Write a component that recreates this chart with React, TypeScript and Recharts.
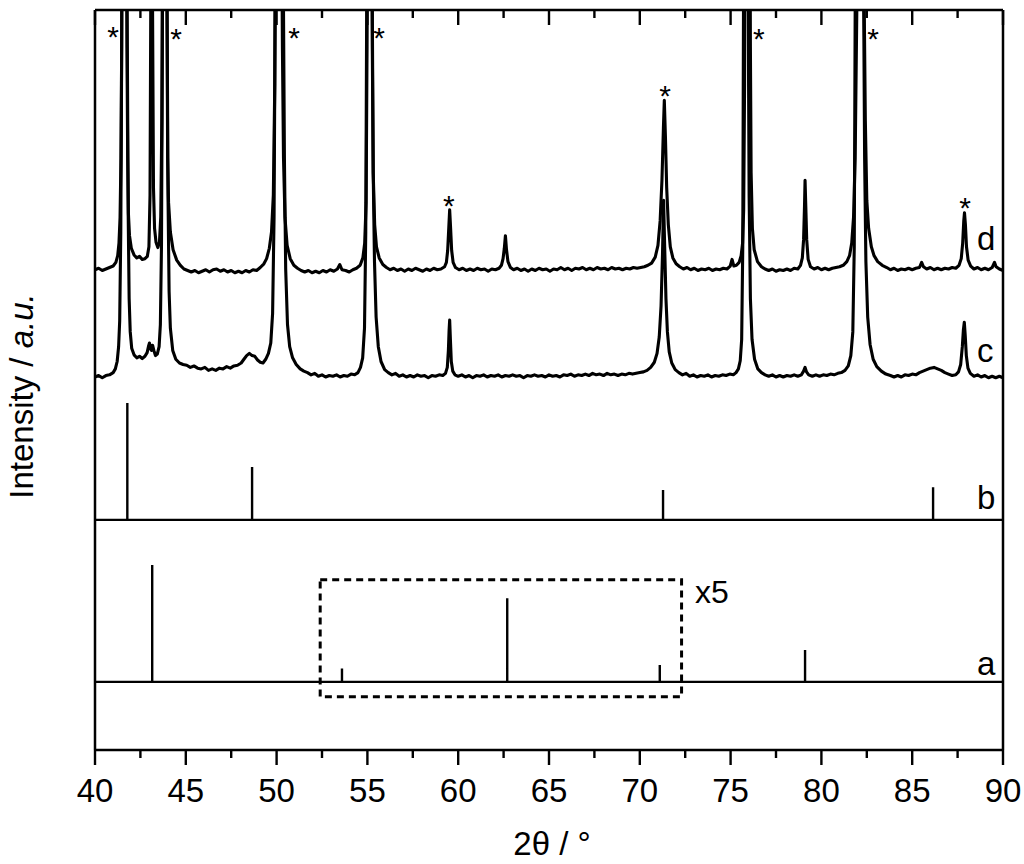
import React from 'react';
import { ComposedChart, Line, XAxis, YAxis, ReferenceLine, ReferenceArea, ReferenceDot, Label } from 'recharts';

const FONT = '"Liberation Sans", Arial, Helvetica, sans-serif';
const INK = '#000000';

// 2theta tick values (major every 5, minor every 2.5)
const xTicks = [40, 42.5, 45, 47.5, 50, 52.5, 55, 57.5, 60, 62.5, 65, 67.5, 70, 72.5, 75, 77.5, 80, 82.5, 85, 87.5, 90];

// reference pattern a (stick positions, heights) drawn on baseline aBase; central part shown x5
const aBase = 9.2;
const aPositions = [43.15, 53.6, 62.7, 71.1, 79.1];
const aHeights = [15.8, 1.8, 11.3, 2.3, 4.3];

// reference pattern b
const bBase = 31.1;
const bPositions = [41.78, 48.65, 71.28, 86.15];
const bHeights = [15.8, 7.15, 4.05, 4.4];

// measured pattern c  [2theta, intensity]
const cPattern: [number, number][] = [
  [40.0,50.4],[40.2,50.6],[40.4,50.3],[40.6,50.6],[40.8,50.7],[41.0,51.0],[41.12,51.5],[41.22,52.5],[41.3,54.5],[41.36,58],[41.42,70],[41.46,90],[41.5,120],[41.62,140],[41.73,120],[41.78,95],[41.83,72],[41.88,61],[41.94,56.5],[42.02,54.3],[42.15,53.4],[42.3,53.0],[42.45,53.2],[42.6,52.9],[42.75,53.2],[42.87,53.7],[42.95,54.6],[43.0,55.0],[43.06,54.2],[43.11,54.0],[43.17,54.7],[43.24,54.0],[43.33,53.3],[43.43,53.5],[43.53,54.5],[43.6,57.5],[43.66,68],[43.71,95],[43.76,140],[43.92,140],[43.97,100],[44.02,75],[44.08,62],[44.15,57],[44.28,54.0],[44.45,52.8],[44.65,52.3],[44.85,52.1],[45.05,52.0],[45.25,51.7],[45.45,51.9],[45.65,51.6],[45.85,51.5],[46.05,51.7],[46.25,51.3],[46.45,51.5],[46.65,51.3],[46.85,51.6],[47.05,51.5],[47.25,51.8],[47.45,51.6],[47.65,51.9],[47.85,52.0],[48.05,52.3],[48.2,52.8],[48.35,53.3],[48.5,53.6],[48.65,53.3],[48.8,53.2],[48.95,52.7],[49.1,52.4],[49.25,52.3],[49.4,52.8],[49.55,53.6],[49.68,55],[49.78,59],[49.86,72],[49.92,100],[49.97,140],[50.32,140],[50.38,100],[50.43,80],[50.5,65],[50.6,57.5],[50.72,54.5],[50.88,53.0],[51.08,52.1],[51.3,51.5],[51.5,51.2],[51.7,51.0],[51.9,50.7],[52.1,50.9],[52.3,50.5],[52.5,50.7],[52.7,50.4],[52.9,50.6],[53.1,50.5],[53.3,50.7],[53.5,50.4],[53.7,50.6],[53.9,50.5],[54.1,50.8],[54.3,50.7],[54.48,51.0],[54.62,51.7],[54.74,53],[54.84,57],[54.91,70],[54.96,100],[55.01,140],[55.22,140],[55.27,100],[55.32,78],[55.39,66],[55.48,58.5],[55.6,54.5],[55.75,52.5],[55.95,51.4],[56.15,51.0],[56.35,50.7],[56.55,50.9],[56.75,50.5],[56.95,50.7],[57.15,50.4],[57.35,50.6],[57.55,50.4],[57.75,50.7],[57.95,50.5],[58.15,50.6],[58.35,50.3],[58.55,50.6],[58.75,50.5],[58.95,50.7],[59.15,50.6],[59.3,50.9],[59.4,51.7],[59.46,54],[59.5,56.8],[59.53,58.1],[59.57,55.5],[59.62,52.5],[59.7,51.2],[59.82,50.7],[60.0,50.5],[60.2,50.7],[60.4,50.4],[60.6,50.6],[60.8,50.3],[61.0,50.6],[61.2,50.5],[61.4,50.7],[61.6,50.4],[61.8,50.6],[62.0,50.5],[62.2,50.7],[62.4,50.4],[62.6,50.6],[62.8,50.5],[63.0,50.7],[63.2,50.5],[63.4,50.6],[63.6,50.3],[63.8,50.6],[64.0,50.5],[64.2,50.7],[64.4,50.5],[64.6,50.6],[64.8,50.4],[65.0,50.7],[65.2,50.5],[65.4,50.6],[65.6,50.4],[65.8,50.7],[66.0,50.6],[66.2,50.8],[66.4,50.5],[66.6,50.7],[66.8,50.6],[67.0,50.8],[67.2,50.6],[67.4,50.9],[67.6,50.7],[67.8,50.8],[68.0,50.6],[68.2,50.9],[68.4,50.7],[68.6,50.8],[68.8,50.6],[69.0,50.8],[69.2,50.7],[69.4,50.9],[69.6,50.8],[69.8,50.9],[70.0,51.0],[70.2,51.1],[70.4,51.3],[70.6,51.7],[70.8,52.4],[70.95,53.6],[71.07,55.8],[71.17,60],[71.25,67],[71.31,74.3],[71.37,68],[71.44,61],[71.52,56.5],[71.62,53.8],[71.76,52.3],[71.95,51.4],[72.15,51.0],[72.35,50.7],[72.55,50.9],[72.75,50.5],[72.95,50.7],[73.15,50.4],[73.35,50.6],[73.55,50.5],[73.75,50.7],[73.95,50.4],[74.15,50.6],[74.35,50.5],[74.55,50.7],[74.75,50.6],[74.95,50.8],[75.15,50.7],[75.3,51.0],[75.43,51.5],[75.53,52.6],[75.61,55.5],[75.67,68],[75.71,100],[75.75,140],[75.93,140],[75.97,100],[76.02,75],[76.09,61],[76.18,55.5],[76.32,52.8],[76.5,51.5],[76.7,51.0],[76.9,50.7],[77.1,50.5],[77.3,50.7],[77.5,50.4],[77.7,50.6],[77.9,50.4],[78.1,50.6],[78.3,50.5],[78.5,50.7],[78.7,50.5],[78.9,50.7],[79.02,51.2],[79.1,51.7],[79.18,51.1],[79.3,50.7],[79.5,50.5],[79.7,50.7],[79.9,50.5],[80.1,50.7],[80.3,50.6],[80.5,50.8],[80.7,50.7],[80.9,50.9],[81.1,51.0],[81.3,51.3],[81.48,51.9],[81.62,53.3],[81.73,56.5],[81.81,68],[81.86,100],[81.91,140],[82.28,140],[82.33,100],[82.38,80],[82.45,66],[82.55,58.5],[82.68,54.8],[82.85,52.8],[83.05,51.8],[83.3,51.2],[83.55,50.8],[83.8,50.6],[84.0,50.4],[84.2,50.6],[84.4,50.4],[84.6,50.7],[84.8,50.6],[85.0,50.8],[85.2,50.7],[85.4,51.0],[85.6,51.2],[85.8,51.4],[86.0,51.6],[86.2,51.7],[86.4,51.5],[86.6,51.3],[86.8,51.0],[87.0,50.8],[87.2,50.6],[87.4,50.7],[87.55,51.1],[87.67,52.1],[87.76,54.5],[87.82,56.8],[87.87,57.8],[87.92,56.0],[87.98,53.3],[88.07,51.6],[88.2,50.9],[88.4,50.5],[88.6,50.7],[88.8,50.4],[89.0,50.6],[89.2,50.3],[89.4,50.5],[89.6,50.3],[89.8,50.5],[90.0,50.3],
];

// measured pattern d  [2theta, intensity]
const dPattern: [number, number][] = [
  [40.0,64.9],[40.2,65.1],[40.4,64.8],[40.6,65.0],[40.8,65.2],[41.0,65.4],[41.15,65.9],[41.25,66.8],[41.32,68.5],[41.38,72],[41.43,80],[41.47,95],[41.5,120],[41.62,140],[41.72,120],[41.76,95],[41.8,80],[41.84,72.5],[41.9,69.5],[42.0,67.8],[42.15,66.9],[42.3,66.5],[42.45,66.7],[42.6,66.3],[42.75,66.4],[42.88,66.7],[42.97,68],[43.03,75],[43.07,100],[43.12,140],[43.17,100],[43.22,76],[43.28,70.5],[43.36,68.6],[43.46,67.9],[43.55,68.6],[43.62,72],[43.68,85],[43.72,110],[43.85,140],[43.95,110],[44.0,80],[44.05,74],[44.15,70],[44.3,67.6],[44.5,66.2],[44.7,65.5],[44.9,65.0],[45.1,64.8],[45.3,64.6],[45.5,64.8],[45.7,64.5],[45.9,64.7],[46.1,64.9],[46.3,64.6],[46.5,64.9],[46.7,65.0],[46.9,64.7],[47.1,64.9],[47.3,64.6],[47.5,64.8],[47.7,64.5],[47.9,64.7],[48.1,64.5],[48.3,64.8],[48.5,64.6],[48.7,64.9],[48.9,64.8],[49.1,65.2],[49.3,65.7],[49.45,66.4],[49.6,67.8],[49.72,70],[49.82,75],[49.9,90],[49.95,120],[50.08,140],[50.26,120],[50.32,95],[50.38,80],[50.46,72],[50.58,68.2],[50.75,66.4],[50.95,65.5],[51.15,65.1],[51.35,64.8],[51.55,64.6],[51.75,64.8],[51.95,64.5],[52.15,64.7],[52.35,64.5],[52.55,64.8],[52.75,64.6],[52.95,64.9],[53.15,64.7],[53.35,65.0],[53.48,65.6],[53.6,64.9],[53.8,64.8],[54.0,64.6],[54.2,64.9],[54.4,65.1],[54.6,65.5],[54.75,66.5],[54.85,68.5],[54.93,74],[54.98,95],[55.02,130],[55.12,140],[55.22,130],[55.27,95],[55.32,78],[55.4,71],[55.5,68],[55.65,66.5],[55.85,65.6],[56.05,65.2],[56.25,64.9],[56.45,65.1],[56.65,64.8],[56.85,65.0],[57.05,64.7],[57.25,65.0],[57.45,64.8],[57.65,65.1],[57.85,64.9],[58.05,64.7],[58.25,65.0],[58.45,64.8],[58.65,65.1],[58.85,64.9],[59.05,65.0],[59.25,65.3],[59.35,65.9],[59.42,67.5],[59.48,70.5],[59.53,73.0],[59.58,70.6],[59.64,67.5],[59.72,65.9],[59.85,65.2],[60.05,64.9],[60.25,65.1],[60.45,64.8],[60.65,65.0],[60.85,64.8],[61.05,65.1],[61.25,64.9],[61.45,65.0],[61.65,64.7],[61.85,65.0],[62.05,64.9],[62.25,65.1],[62.38,65.5],[62.47,66.4],[62.54,67.8],[62.6,69.5],[62.66,67.6],[62.74,66.0],[62.88,65.2],[63.05,64.9],[63.25,65.1],[63.45,64.8],[63.65,65.0],[63.85,64.7],[64.05,65.0],[64.25,64.8],[64.45,65.1],[64.65,64.9],[64.85,65.0],[65.05,64.7],[65.25,65.0],[65.45,64.9],[65.65,65.2],[65.85,64.9],[66.05,65.1],[66.25,64.8],[66.45,65.1],[66.65,65.0],[66.85,65.2],[67.05,64.9],[67.25,65.1],[67.45,64.9],[67.65,65.2],[67.85,65.0],[68.05,65.1],[68.25,64.9],[68.45,65.2],[68.65,65.0],[68.85,65.1],[69.05,64.9],[69.25,65.1],[69.45,65.0],[69.65,65.2],[69.85,65.1],[70.05,65.2],[70.25,65.3],[70.45,65.5],[70.65,65.8],[70.85,66.6],[71.0,68.2],[71.12,71.5],[71.22,77],[71.3,84],[71.35,87.8],[71.41,83],[71.48,76],[71.57,71],[71.68,68],[71.82,66.5],[72.0,65.7],[72.2,65.3],[72.4,65.0],[72.6,65.2],[72.8,64.9],[73.0,65.1],[73.2,64.8],[73.4,65.0],[73.6,64.9],[73.8,65.1],[74.0,64.8],[74.2,65.0],[74.4,64.9],[74.6,65.1],[74.8,65.0],[74.98,65.4],[75.08,66.3],[75.18,65.4],[75.32,65.5],[75.47,65.9],[75.58,66.8],[75.66,68.5],[75.72,73],[75.77,90],[75.8,130],[75.92,140],[76.05,130],[76.09,95],[76.13,78],[76.2,70.5],[76.3,67.6],[76.48,66.0],[76.7,65.3],[76.9,65.0],[77.1,64.8],[77.3,65.0],[77.5,64.7],[77.7,64.9],[77.9,64.8],[78.1,65.0],[78.3,64.8],[78.5,65.1],[78.7,65.0],[78.85,65.5],[78.95,66.5],[79.02,69],[79.07,73.5],[79.1,77.0],[79.14,73.5],[79.19,69],[79.27,66.3],[79.4,65.3],[79.6,65.0],[79.8,65.2],[80.0,64.9],[80.2,65.1],[80.4,64.9],[80.6,65.1],[80.8,65.2],[81.0,65.3],[81.2,65.5],[81.4,66.0],[81.55,66.8],[81.67,68.5],[81.77,72],[81.86,80],[81.95,100],[82.0,130],[82.15,140],[82.3,130],[82.36,100],[82.42,85],[82.5,74.3],[82.6,70.5],[82.75,68],[82.9,66.8],[83.1,66.0],[83.35,65.5],[83.6,65.2],[83.8,64.9],[84.0,65.1],[84.2,64.8],[84.4,65.0],[84.6,64.9],[84.8,65.1],[85.0,64.9],[85.2,65.1],[85.4,65.2],[85.52,65.9],[85.62,65.3],[85.8,65.0],[86.0,65.2],[86.2,64.9],[86.4,65.1],[86.6,64.9],[86.8,65.1],[87.0,65.0],[87.2,65.2],[87.4,65.1],[87.58,65.5],[87.7,66.4],[87.78,68.5],[87.84,71.5],[87.88,72.6],[87.93,71.0],[87.99,68],[88.08,66.2],[88.22,65.4],[88.4,65.0],[88.6,65.2],[88.8,64.9],[89.0,65.1],[89.2,64.9],[89.4,65.2],[89.53,65.9],[89.62,65.3],[89.8,65.0],[90.0,64.8],
];

// asterisk marks [2theta, intensity]
const starMarks: [number, number][] = [
  [40.99, 97.3], [44.46, 97.0], [50.96, 97.2], [55.64, 97.2], [59.49, 74.5],
  [71.39, 89.3], [76.56, 97.0], [82.84, 97.0], [87.91, 74.2],
];

// curve labels [text, 2theta, intensity]
const curveLabels: [string, number, number][] = [
  ['d', 88.57, 67.6], ['c', 88.57, 52.4], ['b', 88.57, 32.6], ['a', 88.57, 10.1],
];

const zoomBox = { x1: 52.4, x2: 72.3, y1: 7.2, y2: 23.0 };
const zoomLabel: [string, number, number] = ['x5', 73.04, 19.9];

function stickSeries(base: number, positions: number[], heights: number[]) {
  const pts: { x: number; y: number }[] = [{ x: 40, y: base }];
  positions.forEach((p, i) => {
    pts.push({ x: p, y: base }, { x: p, y: base + heights[i] }, { x: p, y: base });
  });
  pts.push({ x: 90, y: base });
  return pts;
}
const toPts = (arr: [number, number][]) => arr.map(([x, y]) => ({ x, y }));

const aData = stickSeries(aBase, aPositions, aHeights);
const bData = stickSeries(bBase, bPositions, bHeights);
const cData = toPts(cPattern);
const dData = toPts(dPattern);

const isMajor = (v: number) => Math.abs(v % 5) < 1e-6;

const BottomTick = (props: any) => {
  const { x, y, payload } = props;
  const v = payload.value;
  const major = isMajor(v);
  return (
    <g>
      <line x1={x} y1={y} x2={x} y2={y + (major ? 15 : 8)} stroke={INK} strokeWidth={2.4} />
      {major && (
        <text x={x} y={y + 52} textAnchor="middle" fontSize={33} fontFamily={FONT} fill={INK}>
          {v}
        </text>
      )}
    </g>
  );
};

const TopTick = (props: any) => {
  const { x, y, payload } = props;
  const major = isMajor(payload.value);
  return <line x1={x} y1={y} x2={x} y2={y + (major ? 15 : 8)} stroke={INK} strokeWidth={2.4} />;
};

const XTitle = (props: any) => {
  const vb = props.viewBox || { x: 95, y: 750, width: 908, height: 60 };
  const cx = vb.x + vb.width / 2 + 3;
  return (
    <text x={cx} y={855} textAnchor="middle" fontSize={33} fontFamily={FONT} fill={INK}>
      2θ / °
    </text>
  );
};

const YTitle = (props: any) => {
  const vb = props.viewBox || { x: 0, y: 10, width: 95, height: 740 };
  const bx = 33;
  const cy = vb.y + vb.height / 2 + 16;
  return (
    <text
      x={bx}
      y={cy}
      transform={`rotate(-90, ${bx}, ${cy})`}
      textAnchor="middle"
      fontSize={33}
      fontFamily={FONT}
      fill={INK}
    >
      Intensity / <tspan fontStyle="italic">a.u.</tspan>
    </text>
  );
};

export default function App() {
  return (
    <div style={{ position: 'absolute', left: 0, top: 0, width: 1024, height: 864, background: '#fff' }}>
      <ComposedChart width={1024} height={864} margin={{ top: 10, right: 21, bottom: 54, left: 0 }}>
        <XAxis
          type="number"
          dataKey="x"
          domain={[40, 90]}
          allowDataOverflow
          ticks={xTicks}
          interval={0}
          tickSize={0}
          tickMargin={0}
          tickLine={false}
          tick={<BottomTick />}
          height={60}
          axisLine={{ stroke: INK, strokeWidth: 2.5 }}
        >
          <Label content={<XTitle />} />
        </XAxis>
        <XAxis
          xAxisId="top"
          orientation="top"
          mirror
          type="number"
          dataKey="x"
          domain={[40, 90]}
          allowDataOverflow
          ticks={xTicks}
          interval={0}
          tickSize={0}
          tickMargin={0}
          tickLine={false}
          tick={<TopTick />}
          axisLine={{ stroke: INK, strokeWidth: 2.5 }}
        />
        <YAxis
          type="number"
          domain={[0, 100]}
          allowDataOverflow
          width={95}
          tick={false}
          tickLine={false}
          axisLine={{ stroke: INK, strokeWidth: 2.5 }}
        >
          <Label content={<YTitle />} />
        </YAxis>
        <ReferenceLine x={90} stroke={INK} strokeWidth={2.5} />
        <ReferenceArea
          x1={zoomBox.x1}
          x2={zoomBox.x2}
          y1={zoomBox.y1}
          y2={zoomBox.y2}
          fill="none"
          fillOpacity={0}
          stroke={INK}
          strokeWidth={3}
          strokeDasharray="7 5"
        />
        <Line data={aData} dataKey="y" type="linear" stroke={INK} strokeWidth={2.4} dot={false} activeDot={false} isAnimationActive={false} />
        <Line data={bData} dataKey="y" type="linear" stroke={INK} strokeWidth={2.4} dot={false} activeDot={false} isAnimationActive={false} />
        <Line data={cData} dataKey="y" type="linear" stroke={INK} strokeWidth={3.1} strokeLinejoin="round" dot={false} activeDot={false} isAnimationActive={false} />
        <Line data={dData} dataKey="y" type="linear" stroke={INK} strokeWidth={3.1} strokeLinejoin="round" dot={false} activeDot={false} isAnimationActive={false} />
        {starMarks.map(([sx, sy], i) => (
          <ReferenceDot
            key={`s${i}`}
            x={sx}
            y={sy}
            r={0}
            shape={(p: any) => (
              <text x={p.cx} y={p.cy + 17} textAnchor="middle" fontSize={30} fontFamily={FONT} fill={INK}>
                *
              </text>
            )}
          />
        ))}
        {curveLabels.map(([t, lx, ly]) => (
          <ReferenceDot
            key={t}
            x={lx}
            y={ly}
            r={0}
            shape={(p: any) => (
              <text x={p.cx} y={p.cy} textAnchor="start" fontSize={33} fontFamily={FONT} fill={INK}>
                {t}
              </text>
            )}
          />
        ))}
        <ReferenceDot
          x={zoomLabel[1]}
          y={zoomLabel[2]}
          r={0}
          shape={(p: any) => (
            <text x={p.cx} y={p.cy} textAnchor="start" fontSize={32} fontFamily={FONT} fill={INK}>
              {zoomLabel[0]}
            </text>
          )}
        />
      </ComposedChart>
    </div>
  );
}
